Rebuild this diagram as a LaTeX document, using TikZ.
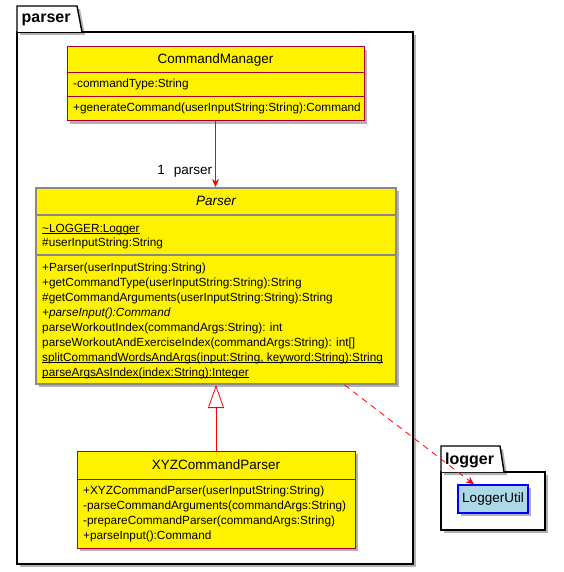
\documentclass[tikz,border=0pt]{standalone}
\usepackage{fontspec}
\setmainfont{Liberation Sans}
\usetikzlibrary{arrows.meta,shadows}

\definecolor{umlred}{HTML}{A80036}
\definecolor{umlgray}{HTML}{888888}
\definecolor{umlblue}{HTML}{ADD8E6}

\tikzset{
    softshadow/.style = {drop shadow = {shadow xshift = 3pt, shadow yshift = -3pt, fill = black, opacity = 0.3}},
    pkg/.style = {draw = black, fill = white, line width = 1.4pt, softshadow},
    pkglabel/.style = {anchor = west, inner sep = 0pt, font = \fontsize{16}{18}\bfseries},
    umlbox/.style = {draw = umlred, fill = yellow, line width = 1pt, inner sep = 0pt, softshadow},
    abstractbox/.style = {umlbox, draw = umlgray, line width = 2pt},
    classname/.style = {inner sep = 0pt, font = \fontsize{13.5}{15}\selectfont},
    member/.style = {anchor = west, inner sep = 0pt, text height = 8.5pt, text depth = 2.5pt, font = \fontsize{11.8}{13}\selectfont},
    assoc/.style = {draw = red, line width = 0.8pt, -{Stealth[length = 8pt, width = 7pt, inset = 2.5pt]}},
    inherit/.style = {draw = red, line width = 0.8pt, -{Triangle[open, length = 23pt, width = 16pt, fill = white]}},
    depend/.style = {draw = red, line width = 0.8pt, dash pattern = on 6pt off 5pt, -{Stealth[length = 8pt, width = 7pt, inset = 2.5pt]}}
}

\begin{document}
\begin{tikzpicture}[x = 1pt, y = -1pt]
        \useasboundingbox (0,0) rectangle (563,572);

        \draw [pkg] (17,32) rectangle (413,564);
        \draw [pkg] (17,32) -- (17,6) -- (77,6) -- (82,32);
        \node [pkglabel] (parserpkg) at (21.5,20) {parser};

        \draw [pkg] (441,472) rectangle (545,530);
        \draw [pkg] (441,472) -- (441,446) -- (500,446) -- (504,472);
        \node [pkglabel] (loggerpkg) at (445,460) {logger};

        \node [umlbox, minimum width = 297pt, minimum height = 74pt] (cmdmgr) at (215.5,84) {};
        \draw [umlred, line width = 1pt] (67,73) -- (364,73) (67,97) -- (364,97);
        \node [classname] (cmdmgr-name) at (215.5,60) {CommandManager};
        \node [member] (cmdmgr-a1) at (73,85) {-commandType:String};
        \node [member] (cmdmgr-m1) at (73,109) {+generateCommand(userInputString:String):Command};

        \node [abstractbox, minimum width = 360pt, minimum height = 196pt] (parser) at (216,286) {};
        \draw [umlgray, line width = 2pt] (36,215) -- (396,215) (36,255) -- (396,255);
        \node [classname, font = \fontsize{13.5}{15}\itshape] (parser-name) at (216,201) {Parser};
        \node [member] (parser-a1) at (42,229) {\underline{\smash{\~{}LOGGER:Logger}}};
        \node [member] (parser-a2) at (42,243) {\#userInputString:String};
        \node [member] (parser-m1) at (42,268) {+Parser(userInputString:String)};
        \node [member] (parser-m2) at (42,283) {+getCommandType(userInputString:String):String};
        \node [member] (parser-m3) at (42,298) {\#getCommandArguments(userInputString:String):String};
        \node [member, font = \fontsize{11.8}{13}\itshape] (parser-m4) at (42,313) {+parseInput():Command};
        \node [member] (parser-m5) at (42,328) {parseWorkoutIndex(commandArgs:String): int};
        \node [member] (parser-m6) at (42,343) {parseWorkoutAndExerciseIndex(commandArgs:String): int[]};
        \node [member] (parser-m7) at (42,358) {\underline{\smash{splitCommandWordsAndArgs(input:String, keyword:String):String}}};
        \node [member] (parser-m8) at (42,373) {\underline{\smash{parseArgsAsIndex(index:String):Integer}}};

        \node [umlbox, minimum width = 278pt, minimum height = 97pt] (xyzparser) at (216,499.5) {};
        \draw [umlred, line width = 1pt] (77,479) -- (355,479);
        \node [classname] (xyzparser-name) at (216,465) {XYZCommandParser};
        \node [member] (xyzparser-m1) at (83,491) {+XYZCommandParser(userInputString:String)};
        \node [member] (xyzparser-m2) at (83,506) {-parseCommandArguments(commandArgs:String)};
        \node [member] (xyzparser-m3) at (83,521) {-prepareCommandParser(commandArgs:String)};
        \node [member] (xyzparser-m4) at (83,536) {+parseInput():Command};

        \node [umlbox, draw = blue, fill = umlblue, line width = 1.3pt, minimum width = 70pt, minimum height = 28pt, font = \fontsize{13.5}{15}\selectfont] (logutil) at (493,499) {LoggerUtil};

        \draw [assoc] (cmdmgr.south) -- (cmdmgr.south |- parser.north)
            node [pos = 1, anchor = base east, inner sep = 0pt, xshift = -3pt, yshift = 12pt, font = \fontsize{13.5}{15}\selectfont] (assoc-label) {1\hspace{9pt}parser};
        \draw [inherit] (xyzparser.north) -- (parser.south);
        \draw [depend] (parser) -- (logutil);
    \end{tikzpicture}
\end{document}
